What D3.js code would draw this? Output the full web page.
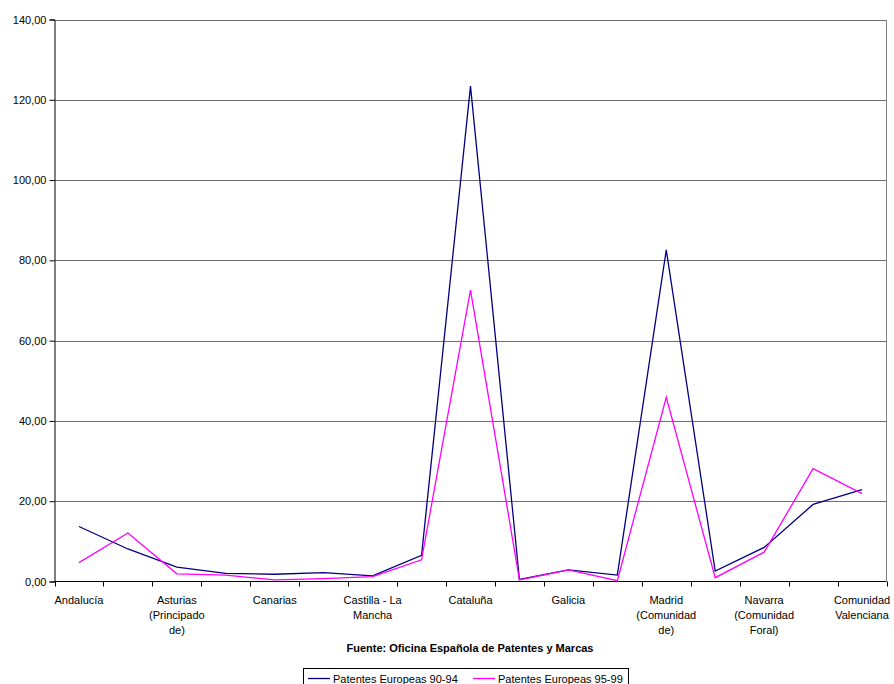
<!DOCTYPE html>
<html><head><meta charset="utf-8">
<script src="https://cdn.jsdelivr.net/npm/d3@7"></script>
<style>
body{margin:0;background:#fff;}
text{font-family:"Liberation Sans",Arial,sans-serif;}
</style></head>
<body><svg id="c" width="894" height="684"></svg>
<script>
const categories = ["Andalucía","Aragón","Asturias (Principado de)","Baleares (Islas)","Canarias","Cantabria","Castilla - La Mancha","Castilla y León","Cataluña","Extremadura","Galicia","La Rioja","Madrid (Comunidad de)","Murcia (Región de)","Navarra (Comunidad Foral)","País Vasco","Comunidad Valenciana"];
const series9094 = [13.7,8.1,3.6,2.0,1.8,2.2,1.4,6.5,123.4,0.5,2.9,1.6,82.6,2.6,8.5,19.2,22.9];
const series9599 = [4.7,12.1,1.9,1.6,0.4,0.7,1.2,5.4,72.6,0.4,2.9,0.2,45.9,0.95,7.3,28.1,21.9];
const seriesNames = ["Patentes Europeas 90-94","Patentes Europeas 95-99"];
const yTicks = [0,20,40,60,80,100,120,140];
const sourceText = "Fuente: Oficina Española de Patentes y Marcas";

const svg = d3.select("#c");
const L = 54.5, R = 886.5, T = 19.5, B = 581.5;
const x = d3.scaleBand().domain(categories).range([L, R]).padding(0);
const y = d3.scaleLinear().domain([0,140]).range([B, T]);
const loc = d3.formatLocale({decimal:",", thousands:".", grouping:[3], currency:["","€"]});
const fmt = loc.format(".2f");

// gridlines
svg.append("g").selectAll("line").data(yTicks.filter(d=>d>0)).join("line")
  .attr("x1", L).attr("x2", R).attr("y1", d=>Math.round(y(d))+0.5).attr("y2", d=>Math.round(y(d))+0.5)
  .attr("stroke", "#6e6e6e").attr("stroke-width", 1);
// right border
svg.append("line").attr("x1", R).attr("x2", R).attr("y1", Math.round(y(140))+0.5).attr("y2", B)
  .attr("stroke", "#808080");

// y axis
const ya = d3.axisLeft(y).tickValues(yTicks).tickFormat(fmt).tickSize(5).tickPadding(3);
const gy = svg.append("g").attr("transform", `translate(${L},0)`).call(ya);
gy.select(".domain").attr("stroke", "#000");
gy.selectAll(".tick line").attr("stroke", "#000");
gy.selectAll(".tick text").attr("font-size", 11).attr("fill", "#000")
  .style("font-family", "'Liberation Sans', Arial, sans-serif");

// x axis
const bw = x.bandwidth();
const gx = svg.append("g");
gx.append("line").attr("x1", L).attr("x2", R).attr("y1", B).attr("y2", B).attr("stroke", "#000");
const bounds = categories.map(c => x(c)).concat([x(categories[categories.length-1]) + bw]);
gx.selectAll("line.tk").data(bounds).join("line").attr("class","tk")
  .attr("x1", d=>Math.round(d)+0.5).attr("x2", d=>Math.round(d)+0.5).attr("y1", B).attr("y2", B+5).attr("stroke", "#000");

function wrap(str, maxW) {
  const words = str.split(" ");
  const lines = []; let cur = "";
  const ctx = document.createElement("canvas").getContext("2d");
  ctx.font = "11px 'Liberation Sans', Arial";
  words.forEach(w => {
    const t = cur ? cur + " " + w : w;
    if (ctx.measureText(t).width > maxW && cur) { lines.push(cur); cur = w; } else cur = t;
  });
  if (cur) lines.push(cur);
  return lines;
}
const shown = categories.filter((c,i)=> i % 2 === 0);
shown.forEach(c => {
  const lines = wrap(c, 67);
  const t = gx.append("text").attr("text-anchor","middle").attr("font-size",11).attr("fill","#000")
    .attr("x", x(c) + bw/2).attr("y", B + 22);
  lines.forEach((ln, i) => t.append("tspan").attr("x", x(c)+bw/2).attr("dy", i===0?0:15).text(ln));
});

// lines
const colors = ["#000080", "#FF00FF"];
[series9094, series9599].forEach((s, k) => {
  const line = d3.line().x((d,i)=> x(categories[i]) + bw/2).y(d=>y(d));
  svg.append("path").datum(s).attr("d", line).attr("fill","none")
    .attr("stroke", colors[k]).attr("stroke-width", 1.3);
});

// source
svg.append("text").attr("x", 470).attr("y", 652).attr("text-anchor","middle")
  .attr("font-size", 11).attr("font-weight","bold").attr("fill","#000").text(sourceText);

// legend
const lg = svg.append("g");
lg.append("rect").attr("x", 303.5).attr("y", 668.5).attr("width", 325).attr("height", 30)
  .attr("fill","#fff").attr("stroke","#000");
const lx = [308, 473];
seriesNames.forEach((n,k) => {
  lg.append("line").attr("x1", lx[k]).attr("x2", lx[k]+22).attr("y1", 678.5).attr("y2", 678.5)
    .attr("stroke", colors[k]).attr("stroke-width", 1.3);
  lg.append("text").attr("x", lx[k]+25).attr("y", 682.5).attr("font-size", 11).attr("fill","#000").text(n);
});
</script></body></html>
